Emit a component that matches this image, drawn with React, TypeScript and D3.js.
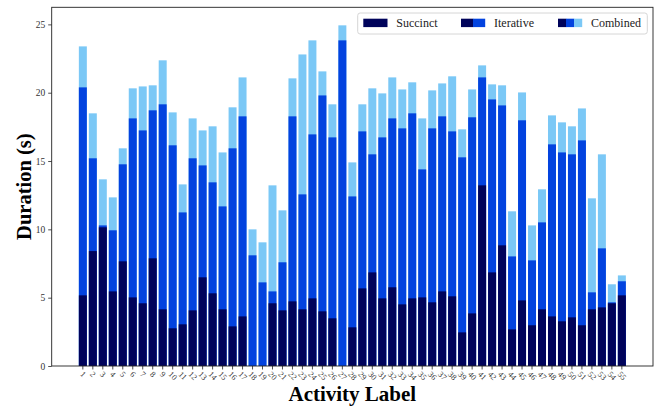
import * as d3 from "d3";
import { useEffect, useRef } from "react";

// values (seconds)
const labels = d3.range(1, 56).map(String);
const succinct = [5.17, 8.41, 10.15, 5.46, 7.66, 5.02, 4.59, 7.88, 4.15, 2.76, 3.05, 4.07, 6.49, 5.32, 4.15, 2.9, 3.63, 0, 0, 4.59, 4.07, 4.73, 4.15, 4.95, 4.0, 3.49, 0, 2.83, 5.68, 6.85, 4.95, 5.76, 4.51, 4.95, 5.02, 4.66, 5.46, 5.1, 2.46, 3.85, 13.22, 6.85, 8.83, 2.68, 4.8, 2.98, 4.15, 3.63, 3.27, 3.56, 2.98, 4.15, 4.29, 4.59, 5.17];
const iterative = [20.39, 15.2, 10.29, 9.93, 14.76, 18.12, 17.24, 18.71, 19.15, 16.15, 11.24, 15.2, 14.68, 13.44, 11.68, 15.93, 18.27, 8.1, 6.12, 5.46, 7.59, 18.27, 12.56, 16.95, 19.8, 16.73, 23.83, 12.41, 17.17, 15.49, 16.73, 18.12, 17.39, 18.49, 14.39, 17.39, 18.27, 17.17, 15.27, 18.2, 21.12, 19.51, 19.07, 8.02, 17.98, 7.73, 10.51, 16.22, 15.63, 15.49, 16.51, 5.39, 8.61, 4.66, 6.2];
const combined = [23.39, 18.49, 13.66, 12.34, 15.93, 20.32, 20.46, 20.54, 22.37, 18.56, 13.29, 18.12, 17.24, 17.54, 15.63, 18.93, 21.12, 10.0, 9.05, 13.22, 11.39, 21.05, 22.8, 23.83, 21.56, 19.15, 24.93, 14.9, 19.15, 20.32, 19.95, 21.12, 20.24, 20.76, 18.12, 20.17, 20.68, 21.2, 17.32, 20.24, 22.0, 20.61, 20.54, 11.32, 20.02, 10.29, 12.93, 18.34, 17.83, 17.54, 18.85, 12.27, 15.49, 5.98, 6.63];
const yTicks = [0, 5, 10, 15, 20, 25];

const DARK = "#00035b";
const BLUE = "#0343df";
const LIGHT = "#7bc8f6";
const FONT = "'Liberation Serif', 'Times New Roman', serif";

const width = 656;
const height = 406;
const margin = { top: 7.3, right: 3, bottom: 40, left: 51.7 };

export default function App() {
  const svgRef = useRef<SVGSVGElement | null>(null);

  useEffect(() => {
    const svg = d3.select(svgRef.current);
    svg.selectAll("*").remove();

    const x = d3.scaleBand()
      .domain(labels)
      .range([margin.left, width - margin.right])
      .paddingInner(0.2)
      .paddingOuter(2.72);

    const y = d3.scaleLinear()
      .domain([0, 26.25])
      .range([height - margin.bottom, margin.top]);

    const g = svg.append("g");

    // back to front: combined, iterative, succinct (each from zero)
    const layers = [
      { vals: combined, color: LIGHT },
      { vals: iterative, color: BLUE },
      { vals: succinct, color: DARK },
    ];
    layers.forEach((layer) => {
      g.append("g")
        .selectAll("rect")
        .data(labels.map((l, i) => ({ l, v: layer.vals[i] })).filter((d) => d.v > 0))
        .join("rect")
        .attr("x", (d) => x(d.l)!)
        .attr("width", x.bandwidth())
        .attr("y", (d) => y(d.v))
        .attr("height", (d) => y(0) - y(d.v))
        .attr("fill", layer.color);
    });

    // frame
    g.append("rect")
      .attr("x", margin.left)
      .attr("y", margin.top)
      .attr("width", width - margin.left - margin.right)
      .attr("height", y(0) - margin.top)
      .attr("fill", "none")
      .attr("stroke", "#222")
      .attr("stroke-width", 0.9);

    // y axis
    const yAxis = g.append("g")
      .attr("transform", `translate(${margin.left},0)`)
      .call(d3.axisLeft(y).tickValues(yTicks).tickSize(3.5).tickPadding(3));
    yAxis.select(".domain").remove();
    yAxis.selectAll(".tick line").attr("stroke", "#222").attr("stroke-width", 0.8);
    yAxis.selectAll(".tick text")
      .style("font-family", FONT)
      .style("font-size", "9.5px")
      .attr("fill", "#333");

    // x axis, labels tilted 45deg
    const xAxis = g.append("g")
      .attr("transform", `translate(0,${y(0)})`)
      .call(d3.axisBottom(x).tickSize(3.5).tickSizeOuter(0));
    xAxis.select(".domain").remove();
    xAxis.selectAll(".tick line").attr("stroke", "#222").attr("stroke-width", 0.8);
    const cy = (d: string) => 5 + (d.length * 4.1 + 5.5) * 0.36;
    xAxis.selectAll<SVGTextElement, string>(".tick text")
      .style("font-family", FONT)
      .style("font-size", "8.2px")
      .attr("fill", "#333")
      .attr("text-anchor", "middle")
      .attr("dy", null)
      .attr("dominant-baseline", "central")
      .attr("y", (d) => cy(d))
      .attr("transform", (d) => `rotate(45,0,${cy(d)})`);

    // axis titles
    svg.append("text")
      .attr("transform", `translate(31,${(margin.top + y(0)) / 2}) rotate(-90)`)
      .attr("text-anchor", "middle")
      .style("font-family", FONT)
      .style("font-weight", "bold")
      .style("font-size", "20.5px")
      .text("Duration (s)");

    svg.append("text")
      .attr("x", (margin.left + width - margin.right) / 2)
      .attr("y", 401)
      .attr("text-anchor", "middle")
      .style("font-family", FONT)
      .style("font-weight", "bold")
      .style("font-size", "21px")
      .text("Activity Label");

    // legend
    const lg = svg.append("g");
    lg.append("rect")
      .attr("x", 357.7).attr("y", 13)
      .attr("width", 289.6).attr("height", 21)
      .attr("rx", 2.5)
      .attr("fill", "white")
      .attr("fill-opacity", 0.85)
      .attr("stroke", "#d6d6d6");

    const entries = [
      { name: "Succinct", x: 363.3, colors: [DARK] },
      { name: "Iterative", x: 461, colors: [DARK, BLUE] },
      { name: "Combined", x: 558, colors: [DARK, BLUE, LIGHT] },
    ];
    const patchW = 24;
    entries.forEach((e) => {
      const seg = patchW / e.colors.length;
      e.colors.forEach((c, i) => {
        lg.append("rect")
          .attr("x", e.x + i * seg)
          .attr("y", 18.7)
          .attr("width", seg + 0.2)
          .attr("height", 8.4)
          .attr("fill", c);
      });
      lg.append("text")
        .attr("x", e.x + patchW + 9)
        .attr("y", 27.3)
        .style("font-family", FONT)
        .style("font-size", "12px")
        .attr("fill", "#222")
        .text(e.name);
    });
  }, []);

  return (
    <svg
      ref={svgRef}
      width={width}
      height={height}
      style={{ position: "absolute", left: 0, top: 0, background: "white" }}
    />
  );
}
